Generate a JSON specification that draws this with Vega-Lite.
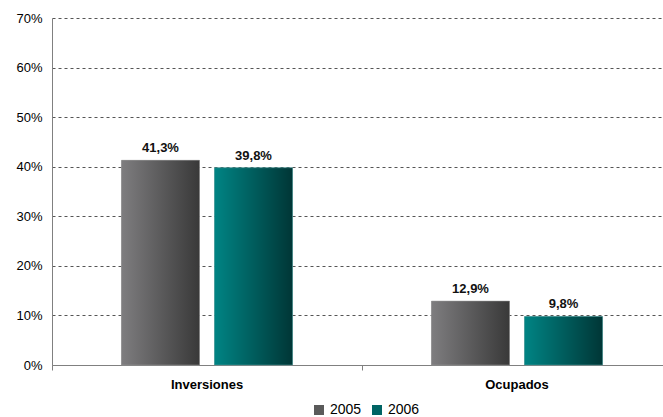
{
  "$schema": "https://vega.github.io/schema/vega-lite/v6.json",
  "width": 611,
  "height": 347,
  "autosize": {"type": "none"},
  "padding": {"left": 52, "top": 18, "right": 0, "bottom": 52},
  "config": {
    "locale": {"number": {"decimal": ",", "thousands": ".", "grouping": [3], "currency": ["", " €"]}},
    "view": {"stroke": null},
    "font": "Liberation Sans"
  },
  "data": {
    "values": [
      {"grupo": "Inversiones", "anio": "2005", "valor": 0.413},
      {"grupo": "Inversiones", "anio": "2006", "valor": 0.398},
      {"grupo": "Ocupados", "anio": "2005", "valor": 0.129},
      {"grupo": "Ocupados", "anio": "2006", "valor": 0.098}
    ]
  },
  "encoding": {
    "x": {
      "field": "grupo", "type": "nominal", "sort": ["Inversiones", "Ocupados"],
      "scale": {"range": [0, 620], "paddingInner": 0, "paddingOuter": 0},
      "axis": {"title": null, "labelAngle": 0, "labelFontWeight": "bold", "labelFontSize": 13, "labelColor": "#000000", "labelPadding": 8, "domainColor": "#808080", "tickColor": "#808080", "tickSize": 5, "bandPosition": 0, "grid": false}
    },
    "xOffset": {"field": "anio", "type": "nominal", "scale": {"paddingInner": 0.161, "paddingOuter": 0.747}},
    "y": {
      "field": "valor", "type": "quantitative",
      "scale": {"domain": [0, 0.7]},
      "axis": {"title": null, "format": ".0%", "values": [0, 0.1, 0.2, 0.3, 0.4, 0.5, 0.6, 0.7], "grid": true, "gridDash": [3, 3], "gridColor": "#555555", "gridWidth": 1, "ticks": false, "domainColor": "#808080", "labelFontSize": 13, "labelColor": "#000000", "labelPadding": 10}
    }
  },
  "layer": [
    {
      "mark": {"type": "bar"},
      "encoding": {
        "color": {
          "field": "anio", "type": "nominal",
          "scale": {"domain": ["2005", "2006"], "range": ["#5a5a5a", "#006464"]},
          "legend": {"orient": "none", "legendX": 260, "legendY": 385, "direction": "horizontal", "title": null, "symbolType": "square", "symbolSize": 100, "symbolStrokeWidth": 0, "labelFontSize": 14, "labelColor": "#000000", "labelOffset": 4, "columnPadding": 8}
        }
      }
    },
    {
      "transform": [{"filter": "datum.anio === '2005'"}],
      "mark": {"type": "bar", "stroke": "#9a9a9a", "strokeWidth": 0.5, "fill": {"gradient": "linear", "x1": 0, "y1": 0, "x2": 1, "y2": 0, "stops": [{"offset": 0, "color": "#7e7d7f"}, {"offset": 1, "color": "#393939"}]}}
    },
    {
      "transform": [{"filter": "datum.anio === '2006'"}],
      "mark": {"type": "bar", "stroke": "#5aa0a0", "strokeWidth": 0.5, "fill": {"gradient": "linear", "x1": 0, "y1": 0, "x2": 1, "y2": 0, "stops": [{"offset": 0, "color": "#008484"}, {"offset": 1, "color": "#003636"}]}}
    },
    {
      "mark": {"type": "text", "baseline": "bottom", "dy": -5, "fontWeight": "bold", "fontSize": 13, "color": "#111111"},
      "encoding": {"text": {"field": "valor", "type": "quantitative", "format": ".1%"}}
    }
  ]
}
